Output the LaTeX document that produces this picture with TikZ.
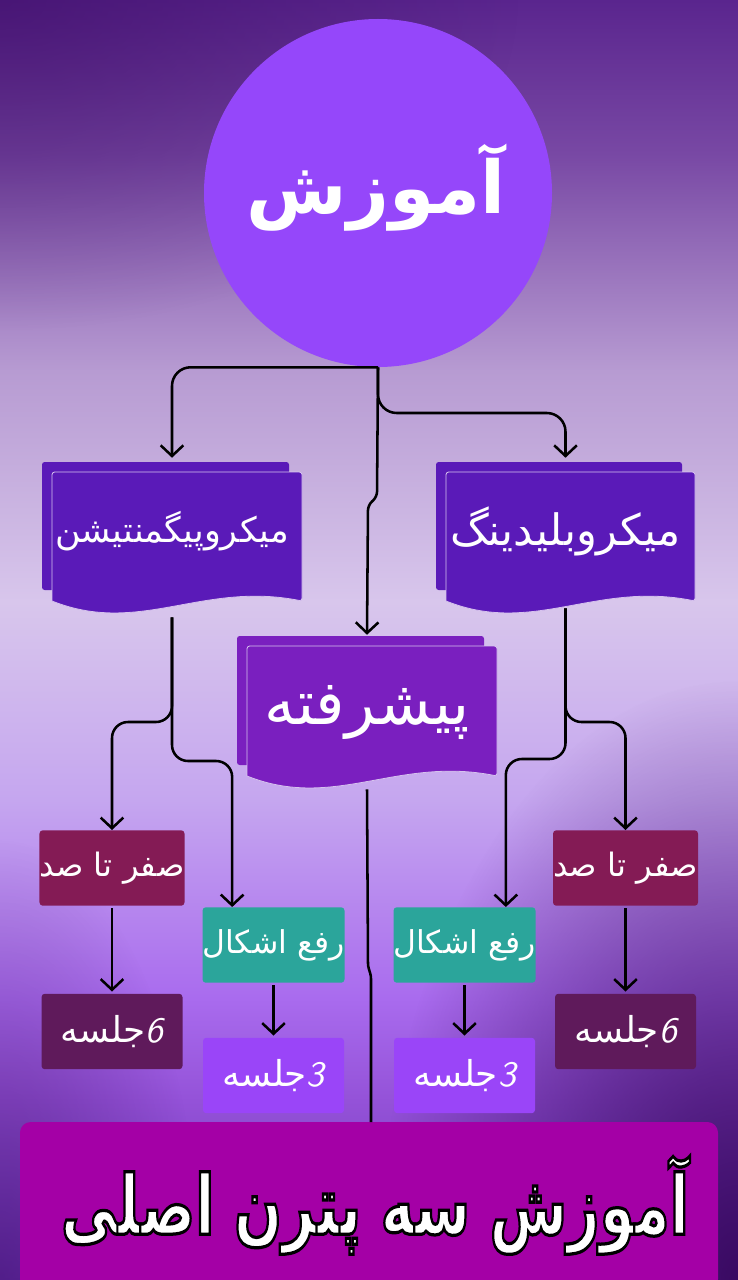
\documentclass[tikz,border=0pt]{standalone}
\usepackage{fontspec}
\usepackage{graphicx}
\usetikzlibrary{arrows.meta,calc,fadings}
\TeXXeTstate=1
\newfontfamily\arabicfont[Script=Arabic]{DejaVu Sans}
\newcommand\ar[1]{{\arabicfont\beginR #1\endR}}
\newcommand\outlined[1]{\special{pdf:literal direct 0 G 2 Tr 2.6 w}#1\special{pdf:literal direct 0 Tr}}
\definecolor{bg0}{HTML}{6A32B2}
\definecolor{bg1a}{HTML}{9452D8}
\definecolor{bg1}{HTML}{A96BEE}
\definecolor{bg2}{HTML}{C5A6EF}
\definecolor{bg3}{HTML}{D8C6EC}
\definecolor{bg4}{HTML}{B79BD2}
\definecolor{bg5}{HTML}{7848A4}
\definecolor{bg6}{HTML}{5A258E}
\definecolor{cornerdark}{HTML}{3A0A62}
\definecolor{circ}{HTML}{9547FA}
\definecolor{docc}{HTML}{5A1AB8}
\definecolor{docm}{HTML}{7A1FBF}
\definecolor{zeroc}{HTML}{841B55}
\definecolor{sixc}{HTML}{5F1A5B}
\definecolor{fixc}{HTML}{2BA59B}
\definecolor{threec}{HTML}{9A45F8}
\definecolor{botc}{HTML}{A400A6}
\definecolor{docedge}{HTML}{D6C2EE}
\pgfdeclareverticalshading{bgsh}{100bp}{color(0bp)=(bg0); color(25bp)=(bg0); color(32bp)=(bg1a); color(36bp)=(bg1); color(43.75bp)=(bg2); color(51.5bp)=(bg3); color(60.5bp)=(bg4); color(69bp)=(bg5); color(75bp)=(bg6); color(100bp)=(bg6)}
\tikzfading[name=softrad, inner color=transparent!0, outer color=transparent!100]
\newcommand\mydoc[5]{%
  \fill[#5, rounded corners=2pt] (#1,#2) rectangle ({#3-13},{#4-11});
  \filldraw[fill=#5, draw=docedge, line width=0.6pt, rounded corners=2pt]
    ({#1+10},#4) -- ({#1+10},{#2+10}) -- (#3,{#2+10}) -- (#3,#4) [sharp corners]
    .. controls ({#1+10+0.6*(#3-#1-10)},{#4-20}) and ({#1+10+0.35*(#3-#1-10)},{#4+35}) .. ({#1+10},#4) -- cycle;}
\begin{document}
\begin{tikzpicture}[x=0.75pt,y=-0.75pt,
  conn/.style={line width=1.9pt, black, -{Straight Barb[length=8pt,width=17pt]}},
  plainline/.style={line width=1.9pt, black},
  docnode/.style={rectangle, minimum width=195pt, minimum height=109.5pt, inner sep=0pt, text=white},
  sbox/.style={rectangle, rounded corners=2.5pt, minimum width=105.75pt, minimum height=56.6pt, inner sep=0pt, text=white}]
\useasboundingbox (0,0) rectangle (738,1280);
\begin{scope}
\clip (0,0) rectangle (738,1280);
\fill[shading=bgsh] (0,0) rectangle (738,1280);
\fill[cornerdark, path fading=softrad, fill opacity=0.55] (0,0) ellipse [x radius=520, y radius=330];
\fill[cornerdark, path fading=softrad, fill opacity=1] (738,1280) ellipse [x radius=360, y radius=600];
\fill[cornerdark, path fading=softrad, fill opacity=0.5] (0,1280) ellipse [x radius=200, y radius=440];
\end{scope}

% top circle
\node[circle, fill=circ, minimum size=261pt, inner sep=0pt] (top) at (378,193) {};
\node[text=white, inner sep=0pt] (title) at (376,188) {\resizebox{193.5pt}{!}{\ar{\bfseries آموزش}}};

% documents
\mydoc{42}{462}{302}{601}{docc}
\mydoc{436}{462}{695}{601}{docc}
\mydoc{237}{636}{497}{776}{docm}
\node[docnode] (docL) at (172,531) {\resizebox{175pt}{!}{\ar{میکروپیگمنتیشن}}};
\node[docnode] (docR) at (565.5,531) {\resizebox{173pt}{!}{\ar{میکروبلیدینگ}}};
\node[docnode, minimum height=115.5pt] (docM) at (367,712) {\raisebox{-4.5pt}{\resizebox{154pt}{!}{\ar{پیشرفته}}}};

% boxes
\node[sbox, fill=zeroc] (zeroL) at (112,868) {\resizebox{108.75pt}{!}{\ar{صفر تا صد}}};
\node[sbox, fill=sixc] (sixL) at (112,1031.5) {\resizebox{77pt}{!}{\ar{{\sffamily\itshape 6}جلسه}}};
\node[sbox, fill=fixc] (fixL) at (273.5,945) {\resizebox{106.5pt}{!}{\ar{رفع اشکال}}};
\node[sbox, fill=threec] (threeL) at (273.5,1075.5) {\resizebox{77pt}{!}{\ar{{\sffamily\itshape 3}جلسه}}};
\node[sbox, fill=fixc] (fixR) at (464.5,945) {\resizebox{106.5pt}{!}{\ar{رفع اشکال}}};
\node[sbox, fill=threec] (threeR) at (464.5,1075.5) {\resizebox{77pt}{!}{\ar{{\sffamily\itshape 3}جلسه}}};
\node[sbox, fill=zeroc] (zeroR) at (625.5,868) {\resizebox{108.75pt}{!}{\ar{صفر تا صد}}};
\node[sbox, fill=sixc] (sixR) at (625.5,1031.5) {\resizebox{77pt}{!}{\ar{{\sffamily\itshape 6}جلسه}}};

% bottom banner
\node[fill=botc, rounded corners=8pt, minimum width=523.5pt, minimum height=126pt, inner sep=0pt] (bottom) at (369,1206) {};
\node[inner sep=0pt, text=white] (slogan) at (375,1205) {\resizebox*{471pt}{74pt}{\outlined{\ar{\bfseries\fontsize{66}{70}\selectfont آموزش سه پترن اصلی}}}};

% connectors from the circle
\coordinate (kR) at (378,413);
\coordinate (kM1) at (377,497);
\coordinate (kM2) at (368,505);
\draw[conn, rounded corners=14pt] (top.south) -| (docL.north);
\draw[conn, rounded corners=14pt] (top.south) -- (kR) -| (docR.north);
\draw[conn, rounded corners=4pt] (top.south) -- (kM1) -- (kM2) -- (docM.north);

% connectors from the documents
\coordinate (jL1) at (172,722);
\coordinate (jL2) at (172,761);
\coordinate (jR1) at (565.5,722);
\coordinate (jR2) at (565.5,759);
\draw[conn, rounded corners=12pt, shorten <=9.75pt] (docL.south) -- (jL1) -| (zeroL.north);
\draw[conn, rounded corners=12pt, shorten <=9.75pt] (docL.south) -- (jL2) -| ($(fixL.north west)!0.21!(fixL.north east)$);
\draw[conn, rounded corners=12pt, shorten <=3pt] (docR.south) -- (jR1) -| (zeroR.north);
\draw[conn, rounded corners=12pt, shorten <=3pt] (docR.south) -- (jR2) -| ($(fixR.north west)!0.79!(fixR.north east)$);

% box to box
\draw[conn, shorten <=1.5pt, shorten >=1.5pt] (zeroL.south) -- (sixL.north);
\draw[conn, shorten <=1.5pt, shorten >=1.5pt] (zeroR.south) -- (sixR.north);
\draw[conn, shorten <=1.5pt, shorten >=1.5pt] (fixL.south) -- (threeL.north);
\draw[conn, shorten <=1.5pt, shorten >=1.5pt] (fixR.south) -- (threeR.north);

% middle line down to the banner
\coordinate (mA) at (368,966);
\coordinate (mB) at (371,976);
\coordinate (mEnd) at (371,1122);
\draw[plainline, rounded corners=2pt] (docM.south) -- (mA) -- (mB) -- (mEnd);
\end{tikzpicture}
\end{document}
